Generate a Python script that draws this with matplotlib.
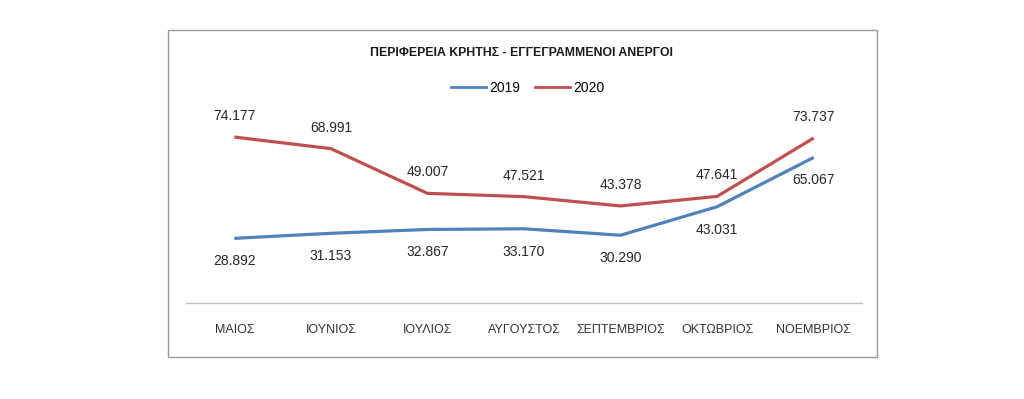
import matplotlib
matplotlib.use("Agg")
import matplotlib.pyplot as plt
from matplotlib.patches import Rectangle
from matplotlib.lines import Line2D

plt.rcParams['font.family'] = ['Liberation Sans Narrow', 'Liberation Sans', 'DejaVu Sans']

title = "ΠΕΡΙΦΕΡΕΙΑ ΚΡΗΤΗΣ - ΕΓΓΕΓΡΑΜΜΕΝΟΙ ΑΝΕΡΓΟΙ"
months = ["ΜΑΙΟΣ", "ΙΟΥΝΙΟΣ", "ΙΟΥΛΙΟΣ", "ΑΥΓΟΥΣΤΟΣ", "ΣΕΠΤΕΜΒΡΙΟΣ", "ΟΚΤΩΒΡΙΟΣ", "ΝΟΕΜΒΡΙΟΣ"]
values_2019 = [28.892, 31.153, 32.867, 33.170, 30.290, 43.031, 65.067]
values_2020 = [74.177, 68.991, 49.007, 47.521, 43.378, 47.641, 73.737]
labels_2019 = ["28.892", "31.153", "32.867", "33.170", "30.290", "43.031", "65.067"]
labels_2020 = ["74.177", "68.991", "49.007", "47.521", "43.378", "47.641", "73.737"]

W, H = 1024, 399
fig = plt.figure(figsize=(W / 100, H / 100), dpi=100)
fig.patch.set_facecolor("white")

# chart border
fig.patches.append(Rectangle((168 / W, 1 - 357 / H), (877 - 168) / W, (357 - 30) / H,
                             transform=fig.transFigure, fill=False,
                             edgecolor="#9a9a9a", linewidth=1.0))

ax = fig.add_axes([186 / W, 1 - 303 / H, 676 / W, 179 / H])
x = list(range(len(months)))
c19, c20 = "#4F81BD", "#C0504D"
ax.plot(x, values_2019, color=c19, linewidth=2.3, solid_capstyle="butt")
ax.plot(x, values_2020, color=c20, linewidth=2.3, solid_capstyle="butt")
ax.set_xlim(-0.5, len(months) - 0.5)
ax.set_ylim(0, 80)
for s in ["top", "right", "left"]:
    ax.spines[s].set_visible(False)
ax.spines["bottom"].set_color("#bfbfbf")
ax.spines["bottom"].set_linewidth(1.0)
ax.set_yticks([])
ax.set_xticks(x)
ax.set_xticklabels(months, fontsize=9, color="#333333")
ax.tick_params(axis="x", length=0, pad=15)
ax.set_facecolor("none")

tc = "#262626"
for i in x:
    ax.annotate(labels_2020[i], (i, values_2020[i]), xytext=(0, 21), textcoords="offset pixels",
                ha="center", va="center", fontsize=10, color=tc)
    ax.annotate(labels_2019[i], (i, values_2019[i]), xytext=(0, -23), textcoords="offset pixels",
                ha="center", va="center", fontsize=10, color=tc)

fig.text(521 / W, 1 - 53 / H, title, ha="center", va="center", fontsize=8.8,
         fontweight="bold", color="#1a1a1a")

handles = [Line2D([], [], color=c19, linewidth=2), Line2D([], [], color=c20, linewidth=2)]
fig.legend(handles, ["2019", "2020"], loc="center", bbox_to_anchor=(528 / W, 1 - 88 / H),
           ncol=2, frameon=False, fontsize=10, handlelength=2.5, handletextpad=0.25,
           columnspacing=1.1)

fig.savefig("out.png", dpi=100)
